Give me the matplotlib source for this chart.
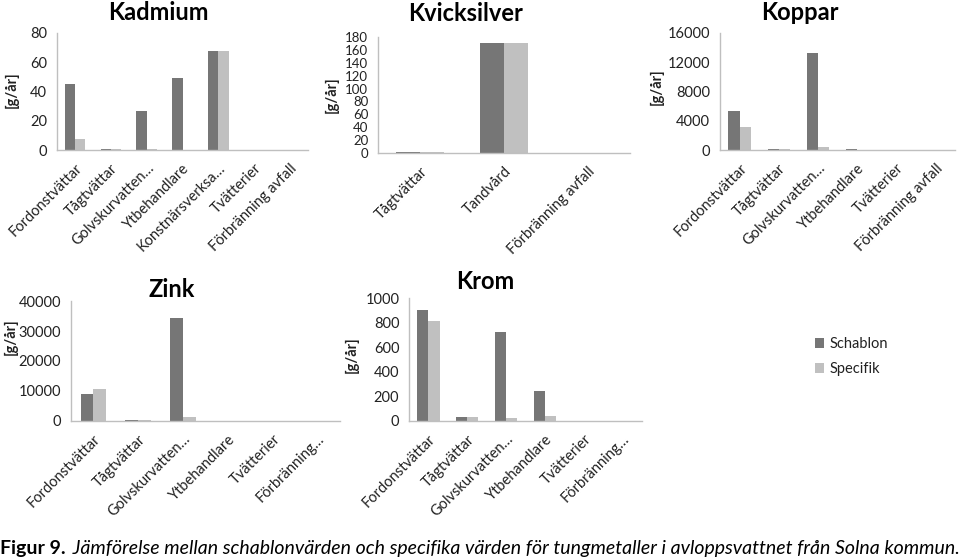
import matplotlib
matplotlib.use("Agg")
import matplotlib.pyplot as plt
import numpy as np
from matplotlib.patches import Patch

plt.rcParams['font.family'] = ['Lato', 'DejaVu Sans']

DARK = '#767676'
LIGHT = '#c0c0c0'
SPINE = '#bfbfbf'
TXT = '#222222'

series_names = ['Schablon', 'Specifik']

kad_cats = ['Fordonstvättar', 'Tågtvättar', 'Golvskurvatten…', 'Ytbehandlare',
            'Konstnärsverksa…', 'Tvätterier', 'Förbränning avfall']
kad_schablon = [45, 1, 26.5, 49, 67.5, 0, 0]
kad_specifik = [7.5, 1, 1, 0, 67.5, 0, 0]

hg_cats = ['Tågtvättar', 'Tandvård', 'Förbränning avfall']
hg_schablon = [1.5, 170, 0]
hg_specifik = [1, 170, 0]

cu_cats = ['Fordonstvättar', 'Tågtvättar', 'Golvskurvatten…', 'Ytbehandlare',
           'Tvätterier', 'Förbränning avfall']
cu_schablon = [5400, 200, 13200, 200, 0, 0]
cu_specifik = [3100, 150, 450, 0, 0, 0]

zn_cats = ['Fordonstvättar', 'Tågtvättar', 'Golvskurvatten…', 'Ytbehandlare',
           'Tvätterier', 'Förbränning…']
zn_schablon = [9000, 300, 34500, 150, 0, 0]
zn_specifik = [10800, 200, 1300, 0, 0, 0]

cr_cats = ['Fordonstvättar', 'Tågtvättar', 'Golvskurvatten…', 'Ytbehandlare',
           'Tvätterier', 'Förbränning…']
cr_schablon = [900, 35, 725, 240, 0, 0]
cr_specifik = [810, 35, 25, 40, 0, 0]

W, H = 960, 559
fig = plt.figure(figsize=(W / 100, H / 100), dpi=100)


def add_axes_px(left, right, top, bottom):
    return fig.add_axes([left / W, 1 - bottom / H, (right - left) / W, (bottom - top) / H])


def panel(box, cats, s1, s2, ymax, ystep, title, title_xy, ylab_xy, ytick_fs=10.5):
    ax = add_axes_px(*box)
    x = np.arange(len(cats))
    w = 0.286
    ax.bar(x - w / 2, s1, width=w, color=DARK, label=series_names[0])
    ax.bar(x + w / 2, s2, width=w, color=LIGHT, label=series_names[1])
    ax.set_xlim(-0.5, len(cats) - 0.5)
    ax.set_ylim(0, ymax)
    ax.set_yticks(np.arange(0, ymax + ystep / 2, ystep))
    ax.set_xticks(x)
    ax.set_xticklabels(cats, rotation=45, ha='right', va='top', rotation_mode='anchor',
                       fontsize=10.5, color=TXT)
    ax.tick_params(axis='y', length=0, pad=7, labelsize=ytick_fs, labelcolor=TXT)
    ax.tick_params(axis='x', length=0, pad=8)
    for s in ['top', 'right']:
        ax.spines[s].set_visible(False)
    for s in ['left', 'bottom']:
        ax.spines[s].set_color(SPINE)
        ax.spines[s].set_linewidth(1.0)
    fig.text(title_xy[0] / W, 1 - title_xy[1] / H, title, ha='center', va='baseline',
             fontsize=17, fontweight='bold', color='black')
    fig.text(ylab_xy[0] / W, 1 - ylab_xy[1] / H, '[g/år]', ha='center', va='center',
             rotation=90, fontsize=10.5, fontweight='bold', color=TXT)
    return ax


ax1 = panel((57, 308, 33, 150), kad_cats, kad_schablon, kad_specifik, 80, 20,
            'Kadmium', (158, 20), (12, 90))
ax2 = panel((378, 630, 37, 153), hg_cats, hg_schablon, hg_specifik, 180, 20,
            'Kvicksilver', (466, 21), (332, 95), ytick_fs=9.5)
ax3 = panel((720, 955, 33, 150), cu_cats, cu_schablon, cu_specifik, 16000, 4000,
            'Koppar', (800, 20), (657, 87))
ax4 = panel((71, 340, 301, 421), zn_cats, zn_schablon, zn_specifik, 40000, 10000,
            'Zink', (172, 297), (11, 337))
ax5 = panel((409, 642, 298, 421), cr_cats, cr_schablon, cr_specifik, 1000, 200,
            'Krom', (485, 289), (352, 355))

handles = [Patch(facecolor=DARK, edgecolor='none'), Patch(facecolor=LIGHT, edgecolor='none')]
fig.legend(handles, series_names, loc='upper left', bbox_to_anchor=(802 / W, 1 - 324 / H),
           frameon=False, fontsize=10.5, handlelength=0.6, handleheight=0.6,
           handletextpad=0.4, labelspacing=0.75, labelcolor=TXT)

t1 = fig.text(0.5 / W, 1 - 554 / H, 'Figur 9.', ha='left', va='baseline',
              fontsize=14, fontweight='bold', color='black')
ax1.annotate(' Jämförelse mellan schablonvärden och specifika värden för tungmetaller i '
             'avloppsvattnet från Solna kommun.',
             xy=(1, 0), xycoords=t1, xytext=(1, 0), textcoords='offset points',
             ha='left', va='bottom', fontsize=14, fontstyle='italic', color='black',
             annotation_clip=False)

fig.savefig('out.png', dpi=100, facecolor='white')
